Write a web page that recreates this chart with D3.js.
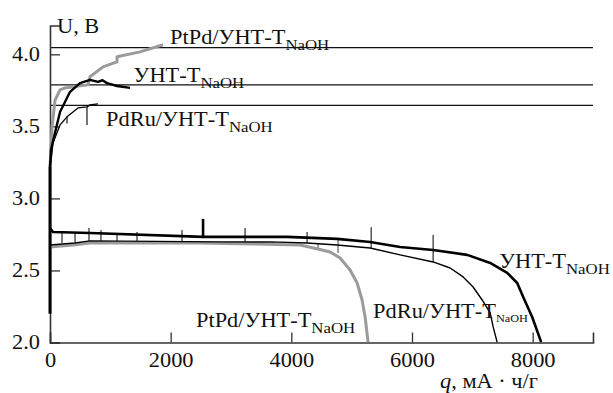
<!DOCTYPE html>
<html><head><meta charset="utf-8">
<script src="https://cdn.jsdelivr.net/npm/d3@7"></script>
<style>body{margin:0;background:#fff}svg{display:block}</style>
</head><body><div id="chart"></div>
<script>
// ---- data ----
const xTicks = [0, 2000, 4000, 6000, 8000];
const yTicks = [2.0, 2.5, 3.0, 3.5, 4.0];
const refLevels = [4.047, 3.788, 3.646];

// charge curves [q, U]
const ptpdCharge = [[0,3.22],[17,3.34],[35,3.50],[83,3.68],[166,3.753],[249,3.767],[497,3.781],[630,3.788],[663,3.844],[879,3.913],[1111,3.948],[1111,3.983],[1492,4.017],[1874,4.066]];
const untCharge = [[0,3.22],[17,3.34],[83,3.455],[166,3.60],[332,3.74],[497,3.80],[663,3.823],[796,3.809],[870,3.82],[945,3.80],[1111,3.78],[1326,3.767]];
const pdruCharge = [[0,3.198],[50,3.385],[166,3.51],[282,3.566],[381,3.60],[464,3.628],[613,3.635],[663,3.649],[796,3.656]];
const pdruChargeBreaks = [[613,3.51,3.635],[282,3.52,3.566]];

// discharge curves [q, U]
const untDischarge = [[0,2.795],[50,2.767],[663,2.76],[2537,2.733],[3930,2.733],[4759,2.719],[5306,2.698],[5803,2.663],[6350,2.642],[6914,2.608],[7296,2.552],[7578,2.483],[7744,2.413],[7843,2.316],[7992,2.177],[8141,2.003]];
const pdruDischarge = [[0,2.677],[415,2.691],[663,2.705],[2819,2.698],[3648,2.698],[4261,2.691],[4759,2.677],[5306,2.656],[5803,2.608],[6350,2.559],[6632,2.517],[6848,2.455],[7013,2.385],[7163,2.295],[7296,2.205],[7345,2.108],[7411,2.003]];
const ptpdDischarge = [[0,2.663],[381,2.677],[663,2.691],[2487,2.691],[3366,2.684],[4145,2.677],[4443,2.649],[4642,2.628],[4808,2.587],[4974,2.503],[5090,2.413],[5173,2.295],[5223,2.177],[5272,2.003]];
const initialDrop = [[0,2.2],[0,3.22]];

// interruption marks [q, U1, U2]
const untSpikes = [[2537,2.733,2.858]];
const pdruSpikes = [[199,2.691,2.767],[415,2.691,2.767],[646,2.705,2.795],[845,2.705,2.78],[1111,2.705,2.758],[1442,2.705,2.767],[2188,2.705,2.78],[3233,2.698,2.795],[4261,2.691,2.767],[5323,2.656,2.80],[6350,2.559,2.747]];
const ptpdSpikes = [[4775,2.622,2.712],[4443,2.649,2.69]];

// labels: [text, sub, q, U, subSize]
const seriesLabels = [
  ["PtPd/УНТ-T","NaOH",1990,4.07,15],
  ["УНТ-T","NaOH",1385,3.81,15],
  ["PdRu/УНТ-T","NaOH",930,3.505,15],
  ["УНТ-T","NaOH",7445,2.52,15],
  ["PdRu/УНТ-T","NaOH",5355,2.17,11],
  ["PtPd/УНТ-T","NaOH",2420,2.11,15]
];

// ---- chart ----
const FONT = "Liberation Serif";
const SX = 1.12; // horizontal stretch of the reference lettering
const W = 613, H = 393;
const svg = d3.select("#chart").append("svg").attr("width", W).attr("height", H)
  .attr("font-family", FONT);
const x = d3.scaleLinear().domain([0, 9000]).range([50, 593]);
const y = d3.scaleLinear().domain([2.0, 4.2]).range([342.5, 25.5]);
const line = d3.line().x(d => x(d[0])).y(d => y(d[1]));

// reference lines
svg.selectAll(".ref").data(refLevels).enter().append("line")
  .attr("x1", x(0)).attr("x2", x(9000)).attr("y1", d => y(d)).attr("y2", d => y(d))
  .attr("stroke", "#111").attr("stroke-width", 1.2);

// axes
const xAxis = d3.axisBottom(x).tickValues(xTicks).tickSize(-10).tickPadding(10).tickFormat(d3.format("d"));
const yAxis = d3.axisLeft(y).tickValues(yTicks).tickSize(-10).tickPadding(10).tickFormat(d3.format(".1f"));
const gx = svg.append("g").attr("transform", `translate(0,${y(2.0)})`).call(xAxis);
const gy = svg.append("g").attr("transform", `translate(${x(0)},0)`).call(yAxis);
[gx, gy].forEach(g => {
  g.attr("font-family", FONT);
  g.select(".domain").attr("stroke", "#333").attr("stroke-width", 1.6);
  g.selectAll(".tick line").attr("stroke", "#333").attr("stroke-width", 1.3);
  g.selectAll(".tick text").attr("font-size", 20).attr("font-family", FONT).attr("fill", "#111");
});
gx.selectAll(".tick text").attr("dy", "0.71em")
  .attr("transform", "scale(" + SX + ",1)")
  .attr("x", 0);
gy.selectAll(".tick text").each(function() {
  const t = d3.select(this);
  const xx = +t.attr("x");
  t.attr("x", xx / SX).attr("transform", "scale(" + SX + ",1)");
});

function path(data, color, w) {
  svg.append("path").datum(data).attr("d", line).attr("fill", "none")
    .attr("stroke", color).attr("stroke-width", w).attr("stroke-linejoin", "round");
}
function spikes(data, color, w) {
  svg.selectAll(null).data(data).enter().append("line")
    .attr("x1", d => x(d[0])).attr("x2", d => x(d[0]))
    .attr("y1", d => y(d[1])).attr("y2", d => y(d[2]))
    .attr("stroke", color).attr("stroke-width", w);
}
const GRAY = "#9b9b9b";
path(ptpdCharge, GRAY, 3);
path(ptpdDischarge, GRAY, 3);
spikes(ptpdSpikes, GRAY, 2);
path(pdruCharge, "#000", 1.3);
path(pdruDischarge, "#000", 1.4);
spikes(pdruChargeBreaks, "#000", 1.1);
spikes(pdruSpikes, "#000", 1);
path(untCharge, "#000", 2.4);
path(untDischarge, "#000", 2.6);
spikes(untSpikes, "#000", 2.6);
path(initialDrop, "#000", 3);

function stretchedText(px, py, size) {
  return svg.append("g").attr("transform", `translate(${px},${py}) scale(${SX},1)`)
    .append("text").attr("font-size", size).attr("font-family", FONT).attr("fill", "#111");
}

// series labels
seriesLabels.forEach(l => {
  const t = stretchedText(x(l[2]), y(l[3]), 20);
  t.append("tspan").text(l[0]);
  t.append("tspan").attr("font-size", l[4]).attr("dy", l[4] > 12 ? 6 : 4).text(l[1]);
});

// axis titles
stretchedText(57, 33, 20).text("U, B");
const qt = stretchedText(440, 387.5, 20);
qt.append("tspan").attr("font-style", "italic").text("q");
qt.append("tspan").text(", мА · ч/г");
</script></body></html>
